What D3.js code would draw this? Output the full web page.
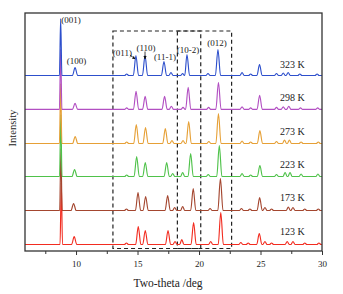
<!DOCTYPE html>
<html>
<head>
<meta charset="utf-8">
<script src="https://cdn.jsdelivr.net/npm/d3@7"></script>
<style>
  body { margin: 0; background: #fff; }
  svg text { font-family: "Liberation Serif", "Times New Roman", serif; fill: #222; }
</style>
</head>
<body>
<div id="chart"></div>
<script>
// XRD patterns at several temperatures, top trace first
const temps = ["323 K", "298 K", "273 K", "223 K", "173 K", "123 K"];
const colors = ["#2d4fcc", "#b24fc2", "#e6a036", "#4fc24a", "#a4462f", "#f22c20"];
// vertical offset of each pattern (a.u.)
const offsets = [175.5, 141.7, 107.5, 74.5, 40.5, 6.5];

// peaks: [2theta, intensity above baseline]
const peaks323 = [[8.75, 57], [9.92, 8], [14.12, 1.5], [14.87, 20], [15.61, 20], [17.15, 14], [17.72, 3], [18.67, 2],
  [19.02, 21], [20.73, 2], [21.54, 26], [23.5, 3], [24.2, 1.5], [24.92, 11], [26.3, 2], [26.85, 2.5], [27.25, 3],
  [28.2, 1.5], [29.6, 1.5]];
const peaks298 = [[8.75, 60], [9.92, 6], [14.12, 1.5], [14.88, 18], [15.62, 13], [17.2, 13], [17.75, 3], [18.7, 2],
  [19.12, 22], [20.78, 2], [21.58, 27], [23.5, 2.5], [24.2, 1.5], [24.93, 14], [26.3, 2], [26.85, 2.5], [27.3, 3],
  [28.25, 1.5], [29.65, 1.5]];
const peaks273 = [[8.75, 60], [9.93, 7], [14.12, 1.5], [14.9, 19], [15.65, 16], [17.26, 15], [17.8, 3], [18.7, 3],
  [19.16, 22], [20.8, 2], [21.58, 30], [23.5, 2.5], [24.2, 1.5], [24.95, 13], [26.3, 2], [26.95, 3.5], [27.35, 3.5],
  [28.3, 1.5], [29.7, 1.5]];
const peaks223 = [[8.76, 62], [9.88, 7], [14.12, 1.5], [14.93, 20], [15.63, 14], [17.37, 14], [17.86, 3], [18.67, 4],
  [19.32, 23], [20.75, 2], [21.65, 31], [23.5, 3], [24.2, 1.5], [24.95, 11], [26.3, 2], [27.0, 4], [27.4, 4],
  [28.3, 2.5], [29.67, 2.5]];
const peaks173 = [[8.77, 62], [9.8, 7], [14.1, 1.5], [15.04, 18], [15.66, 14], [17.45, 15], [18.02, 3], [18.67, 4],
  [19.53, 22], [20.9, 2], [21.74, 32], [23.45, 2], [24.14, 1.5], [24.93, 13], [25.36, 3], [25.9, 1.5], [27.26, 3.5],
  [27.64, 3], [28.6, 1.5], [29.7, 1.5]];
const peaks123 = [[8.8, 62], [9.85, 8], [14.1, 1.5], [15.06, 18], [15.63, 14], [17.48, 14], [18.05, 3], [18.6, 5],
  [19.56, 22], [20.95, 3], [21.77, 32], [23.4, 2], [24.0, 1.5], [24.9, 11], [25.36, 3], [25.9, 1.5], [27.17, 3],
  [27.64, 3], [28.6, 1.5], [29.75, 1.5]];
const patterns = [peaks323, peaks298, peaks273, peaks223, peaks173, peaks123];

// Miller index labels, placed on the 323 K pattern
const hkl = ["(001)", "(100)", "(011)", "(110)", "(11-1)", "(10-2)", "(012)"];
const hklTheta = [8.75, 9.92, 14.87, 15.61, 17.15, 19.02, 21.54];

// dashed boxes: [from, to] in 2theta
const boxes = [[13.0, 20.14], [18.24, 22.65]];

const xTicks = [10, 15, 20, 25, 30];
const xMinor = [7.5, 12.5, 17.5, 22.5, 27.5];

const W = 343, H = 294;
const m = { left: 25, right: 21, top: 13, bottom: 43 };

const svg = d3.select("#chart").append("svg")
  .attr("width", W)
  .attr("height", H);

const x = d3.scaleLinear().domain([5.85, 30]).range([m.left, W - m.right]);
const y = d3.scaleLinear().domain([0, 238]).range([H - m.bottom, m.top]);

// turn a peak list into a line: flat baseline with a hump at each peak
function profile(pk, base) {
  let pts = [[x.domain()[0], 0], [x.domain()[1], 0]];
  pk.forEach(([t, h]) => {
    const w = h > 40 ? 0.1 : (h > 5 ? 0.21 : 0.17);
    pts.push([t - w, 0], [t, h], [t + w, 0]);
  });
  pts.sort((a, b) => a[0] - b[0]);
  return pts.map(p => [p[0], p[1] + base]);
}

const line = d3.line()
  .x(d => x(d[0]))
  .y(d => y(d[1]))
  .curve(d3.curveMonotoneX);

// dashed boxes
const boxG = svg.append("g");
boxes.forEach(b => {
  boxG.append("rect")
    .attr("x", x(b[0]))
    .attr("y", y(220))
    .attr("width", x(b[1]) - x(b[0]))
    .attr("height", y(2.5) - y(220))
    .attr("fill", "none")
    .attr("stroke", "#222")
    .attr("stroke-width", 1.2)
    .attr("stroke-dasharray", "4,3");
});

// patterns, bottom one first so upper ones sit on top
const traces = svg.append("g");
for (let i = patterns.length - 1; i >= 0; i--) {
  traces.append("path")
    .attr("d", line(profile(patterns[i], offsets[i])))
    .attr("fill", "none")
    .attr("stroke", colors[i])
    .attr("stroke-width", 1.15);
}

// temperature labels
svg.append("g")
  .selectAll("text")
  .data(temps)
  .enter()
  .append("text")
  .attr("x", 280)
  .attr("y", (d, i) => y(offsets[i]) - 7.5 - i * 0.5)
  .style("font-size", "10px")
  .text(d => d);

// arrowhead
svg.append("defs").append("marker")
  .attr("id", "arr")
  .attr("viewBox", "0 0 10 10")
  .attr("refX", 9).attr("refY", 5)
  .attr("markerWidth", 4).attr("markerHeight", 4)
  .attr("orient", "auto")
  .append("path")
  .attr("d", "M0,0L10,5L0,10z")
  .attr("fill", "#111");

// hkl labels: [dx, dy, anchor] relative to the peak top
const place = [[0.5, 4, "start"], [1.5, -3.5, "middle"], [-4, 0, "end"], [1, -5, "middle"],
  [1, -1.5, "middle"], [1, -2, "middle"], [-1, -4, "middle"]];
const labG = svg.append("g");
hkl.forEach((lab, i) => {
  const pk = peaks323.find(p => p[0] === hklTheta[i]);
  const px = x(hklTheta[i]), py = y(offsets[0] + pk[1]);
  labG.append("text")
    .attr("x", px + place[i][0])
    .attr("y", py + place[i][1])
    .attr("text-anchor", place[i][2])
    .style("font-size", "9px")
    .text(lab);
  if (lab === "(011)") {
    labG.append("line")
      .attr("x1", px - 6).attr("y1", py - 0.5)
      .attr("x2", px - 0.8).attr("y2", py + 3.5)
      .attr("stroke", "#111").attr("stroke-width", 0.8)
      .attr("marker-end", "url(#arr)");
  }
  if (lab === "(110)") {
    labG.append("line")
      .attr("x1", px).attr("y1", py - 4)
      .attr("x2", px).attr("y2", py + 3.5)
      .attr("stroke", "#111").attr("stroke-width", 0.8)
      .attr("marker-end", "url(#arr)");
  }
});

// x axis
const xAxis = svg.append("g")
  .attr("transform", `translate(0,${H - m.bottom})`)
  .call(d3.axisBottom(x).tickValues(xTicks).tickSize(4).tickPadding(5.5));
xAxis.select(".domain").remove();
xAxis.selectAll("text").style("font-size", "9px").attr("fill", "#222")
  .style("font-family", "'Liberation Serif', serif");
xAxis.selectAll("line").attr("stroke", "#333");

const xMin = svg.append("g")
  .attr("transform", `translate(0,${H - m.bottom})`)
  .call(d3.axisBottom(x).tickValues(xMinor).tickSize(3).tickFormat(""));
xMin.select(".domain").remove();
xMin.selectAll("line").attr("stroke", "#333");

// frame
svg.append("rect")
  .attr("x", m.left)
  .attr("y", m.top)
  .attr("width", W - m.left - m.right)
  .attr("height", H - m.top - m.bottom)
  .attr("fill", "none")
  .attr("stroke", "#333")
  .attr("stroke-width", 1.3);

// axis titles
svg.append("text")
  .attr("x", 168)
  .attr("y", 286.5)
  .attr("text-anchor", "middle")
  .style("font-size", "11.5px")
  .text("Two-theta /deg");

svg.append("text")
  .attr("transform", "translate(16,128) rotate(-90)")
  .attr("text-anchor", "middle")
  .style("font-size", "10.5px")
  .text("Intensity");
</script>
</body>
</html>
